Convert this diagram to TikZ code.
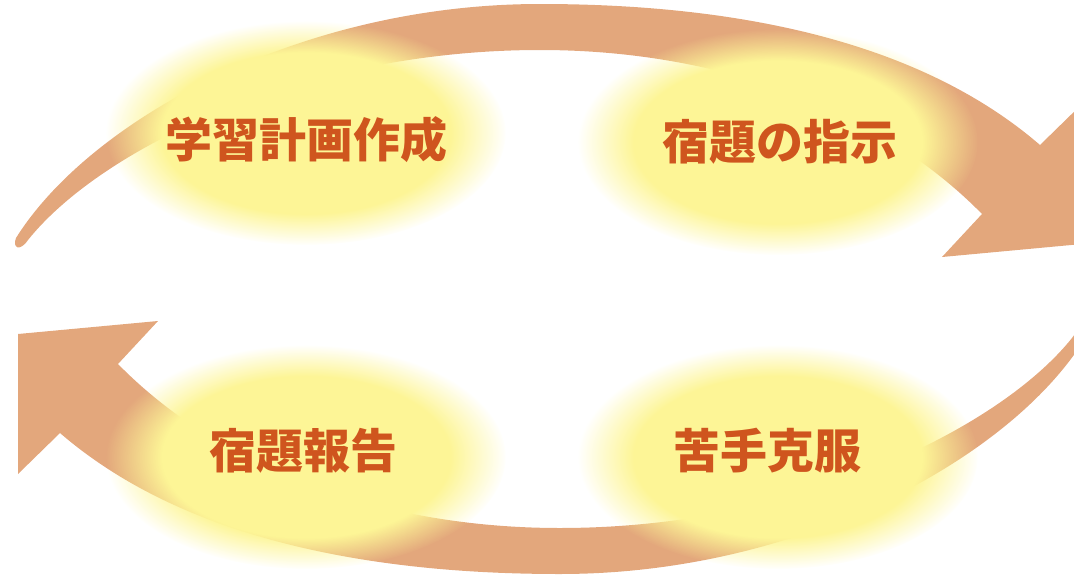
\documentclass[tikz,border=0pt]{standalone}
\usepackage{fontspec}
\newfontfamily\cjk{Noto Sans CJK JP}
\usetikzlibrary{fadings}

\definecolor{arrowtan}{RGB}{227,167,124}
\definecolor{glowyellow}{RGB}{253,245,150}
\definecolor{labelred}{RGB}{207,85,30}

\pgfdeclareradialshading{glowshade}{\pgfpointorigin}{color(0bp)=(pgftransparent!0); color(18bp)=(pgftransparent!0); color(25bp)=(pgftransparent!100); color(50bp)=(pgftransparent!100)}
\pgfdeclarefading{glowfade}{\pgfuseshading{glowshade}}

\tikzset{
  bigarrow/.style={fill=arrowtan},
  glow/.style={fill=glowyellow, path fading=glowfade},
  lbl/.style={text=labelred, font=\cjk\bfseries\fontsize{47}{47}\selectfont}
}

% one half of the cycle, tail on the left, head on the right
\newcommand{\halfarrow}{(16,238) .. controls (90,120) and (300,4) .. (540,4)
  .. controls (760,4) and (930,50) .. (1040,145) -- (1082,104) -- (1082,244)
  -- (942,257) -- (982,214) .. controls (880,110) and (720,50) .. (540,50)
  .. controls (300,50) and (100,150) .. (28,240)
  .. controls (20,252) and (12,248) .. cycle}

\begin{document}
\begin{tikzpicture}[x=1pt, y=-1pt]
    \useasboundingbox (0,0) rectangle (1074,576);
    \clip (0,0) rectangle (1074,576);

    \coordinate (P) at (306,133);
    \coordinate (T) at (778,142);
    \coordinate (R) at (306,457);
    \coordinate (O) at (778,457);

    %Arrows
    \fill[bigarrow] \halfarrow;
    \begin{scope}[rotate around={180:(550,289)}]
      \fill[bigarrow] \halfarrow;
    \end{scope}

    %Glows
    \fill[glow] (P) ellipse (200 and 112);
    \fill[glow] (T) ellipse (200 and 113);
    \fill[glow] (R) ellipse (200 and 112);
    \fill[glow] (O) ellipse (200 and 112);

    \node[lbl] (plan) at (306,140) {学習計画作成};
    \node[lbl] (task) at (780,142) {宿題の指示};
    \node[lbl] (report) at (303,451) {宿題報告};
    \node[lbl] (overcome) at (767,451) {苦手克服};
\end{tikzpicture}
\end{document}
